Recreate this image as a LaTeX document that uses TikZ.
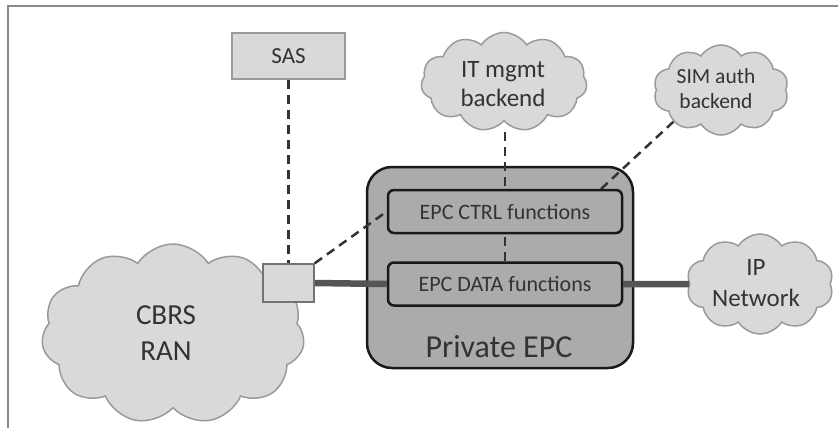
\documentclass[tikz,border=0pt]{standalone}
\usepackage{fontspec}
\setmainfont{Carlito}
\usetikzlibrary{shapes.symbols}
\pgfdeclarelayer{bg}
\pgfdeclarelayer{fg}
\pgfsetlayers{bg,main,fg}
\definecolor{cloudfill}{HTML}{D9D9D9}
\definecolor{cloudline}{HTML}{9A9A9A}
\definecolor{epcfill}{HTML}{ABABAB}
\definecolor{thickline}{HTML}{555555}
\definecolor{dashline}{HTML}{333333}
\definecolor{framecol}{HTML}{8A8A8A}
\tikzset{
  cloudnode/.style={cloud, cloud ignores aspect, fill=cloudfill, draw=cloudline, line width=1.5pt, align=center, text=black!80, inner sep=0pt},
  lightbox/.style={rectangle, fill=cloudfill, draw=cloudline, line width=1.5pt, inner sep=0pt, text=black!80},
  funcbox/.style={rectangle, rounded corners=6pt, fill=epcfill, draw=black!90, line width=2.5pt, inner sep=0pt, text=black!80, minimum width=234pt, minimum height=43pt},
  dashconn/.style={draw=dashline, line width=2.5pt, dash pattern=on 9pt off 6pt},
  thickconn/.style={draw=thickline, line width=6.5pt}
}
\begin{document}
\begin{tikzpicture}[x=1pt,y=-1pt]
\useasboundingbox (0,0) rectangle (838,428);
% frame
\draw[framecol, line width=1.5pt] (8,440) -- (8,6) -- (850,6);
\begin{pgfonlayer}{bg}
  \node[cloudnode, cloud puffs=11, cloud puff arc=115, minimum width=263pt, minimum height=180pt] (ran) at (173,334) {};
  \node[cloudnode, cloud puffs=11, cloud puff arc=115, minimum width=166pt, minimum height=99pt] (itm) at (504,82) {};
  \node[cloudnode, cloud puffs=10, cloud puff arc=115, minimum width=135pt, minimum height=90pt] (sim) at (721,90) {};
  \node[cloudnode, cloud puffs=10, cloud puff arc=115, minimum width=147pt, minimum height=100pt] (ipn) at (760,284) {};
  \node[rectangle, rounded corners=25pt, fill=epcfill, draw=black!90, line width=2.5pt, minimum width=266pt, minimum height=201pt, inner sep=0pt] (epc) at (500,267.5) {};
\end{pgfonlayer}
% texts of clouds
\node[text=black!80, font=\fontsize{29}{36}\selectfont, align=center] (rantxt) at (166,333) {CBRS\\RAN};
\node[text=black!80, font=\fontsize{25}{29}\selectfont, align=center] (itmtxt) at (503,84) {IT mgmt\\backend};
\node[text=black!80, font=\fontsize{21.5}{25}\selectfont, align=center] (simtxt) at (716,89) {SIM auth\\backend};
\node[text=black!80, font=\fontsize{25}{31}\selectfont, align=center] (ipntxt) at (756,283) {IP\\Network};
\node[text=black!80, font=\fontsize{32}{36}\selectfont] (epctxt) at (499,347) {Private EPC};
\begin{pgfonlayer}{fg}
  \node[lightbox, minimum width=113pt, minimum height=46pt, font=\fontsize{23}{26}\selectfont] (sas) at (288.5,56) {SAS};
  \node[lightbox, draw=black!55, minimum width=51pt, minimum height=38pt] (ue) at (288.5,283) {};
  \node[funcbox, font=\fontsize{22}{26}\selectfont] (ctrl) at (505,211.5) {EPC CTRL functions};
  \node[funcbox, font=\fontsize{22}{26}\selectfont] (data) at (505,284) {EPC DATA functions};
\end{pgfonlayer}
\coordinate (simend) at (601,189);
\coordinate (itmend) at (505,132);
% connectors
\path[dashconn] (sas.south) -- ([yshift=-9pt]ue.north);
\path[dashconn] (ue.north east) -- (ctrl.west);
\path[dashconn] (simend) -- (sim.south west);
\path[dashconn] (itmend) -- (data.north);
\path[thickconn] (ue.east) -- (data.west);
\path[thickconn] (data.east) -- (ipn.west);
\end{tikzpicture}
\end{document}
